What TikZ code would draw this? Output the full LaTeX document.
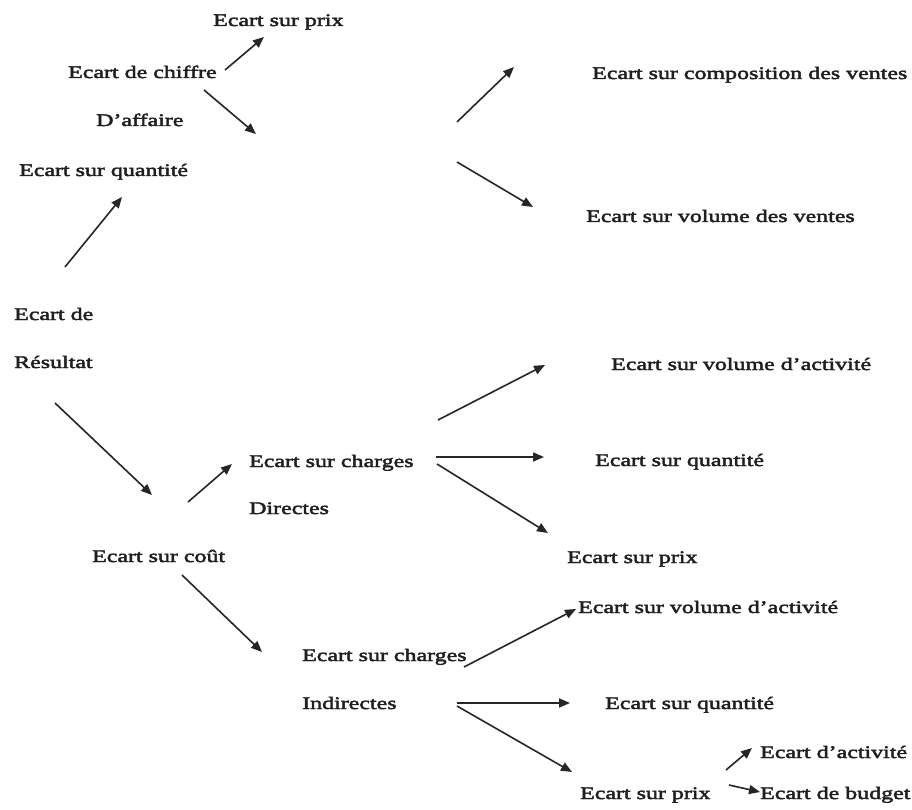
\documentclass[tikz,border=0pt]{standalone}
\usepackage{fontspec}
\newfontfamily\lblfont{Liberation Serif}[FakeStretch=1.36,FakeBold=2.6]
\usetikzlibrary{arrows.meta}
\begin{document}
\begin{tikzpicture}[x=1pt,y=-1pt,
  lbl/.style={anchor=base west,inner sep=0pt,text=black!88,font=\lblfont\fontsize{17.6}{20}\selectfont},
  arr/.style={line width=1.6pt,draw=black!85,-{Triangle[length=11pt,width=9pt]}}]
\useasboundingbox[fill=white] (0,0) rectangle (912,810);

% labels
\node[lbl] (prixA)    at (213,26)  {Ecart sur prix};
\node[lbl] (chiffre)  at (68,78)   {Ecart de chiffre};
\node[lbl] (affaire)  at (96,126)  {D’affaire};
\node[lbl] (quantA)   at (19,176)  {Ecart sur quantité};
\node[lbl] (compo)    at (592,79)  {Ecart sur composition des ventes};
\node[lbl] (volvente) at (586,222) {Ecart sur volume des ventes};
\node[lbl] (ecartde)  at (14,320)  {Ecart de};
\node[lbl] (resultat) at (14,368)  {Résultat};
\node[lbl] (chdir)    at (249,467) {Ecart sur charges};
\node[lbl] (directes) at (249,514) {Directes};
\node[lbl] (volactA)  at (611,370) {Ecart sur volume d’activité};
\node[lbl] (quantB)   at (595,466) {Ecart sur quantité};
\node[lbl] (prixB)    at (567,563) {Ecart sur prix};
\node[lbl] (cout)     at (92,562)  {Ecart sur coût};
\node[lbl] (volactB)  at (578,613) {Ecart sur volume d’activité};
\node[lbl] (chind)    at (302,661) {Ecart sur charges};
\node[lbl] (indir)    at (302,709) {Indirectes};
\node[lbl] (quantC)   at (605,709) {Ecart sur quantité};
\node[lbl] (activite) at (760,758) {Ecart d’activité};
\node[lbl] (prixC)    at (580,799) {Ecart sur prix};
\node[lbl] (budget)   at (760,799) {Ecart de budget};

% arrow end points
\coordinate (a0) at (225,70);  \coordinate (a1) at (264,37);
\coordinate (b0) at (204,90);  \coordinate (b1) at (256,134);
\coordinate (c0) at (65,267);  \coordinate (c1) at (122,197);
\coordinate (d0) at (457,122); \coordinate (d1) at (514,67);
\coordinate (e0) at (457,162); \coordinate (e1) at (533,207);
\coordinate (f0) at (55,403);  \coordinate (f1) at (152,495);
\coordinate (g0) at (188,502); \coordinate (g1) at (232,464);
\coordinate (h0) at (438,420); \coordinate (h1) at (545,365);
\coordinate (i0) at (436,457); \coordinate (i1) at (544,457);
\coordinate (j0) at (437,464); \coordinate (j1) at (548,533);
\coordinate (k0) at (182,575); \coordinate (k1) at (262,652);
\coordinate (l0) at (464,667); \coordinate (l1) at (576,609);
\coordinate (m0) at (457,703); \coordinate (m1) at (570,703);
\coordinate (n0) at (457,706); \coordinate (n1) at (572,772);
\coordinate (o0) at (726,770); \coordinate (o1) at (752,748);
\coordinate (p0) at (729,785); \coordinate (p1) at (760,792);

% connectors
\foreach \s in {a,b,c,d,e,f,g,h,i,j,k,l,m,n,o,p}
  \draw[arr] (\s0) -- (\s1);
\end{tikzpicture}
\end{document}
